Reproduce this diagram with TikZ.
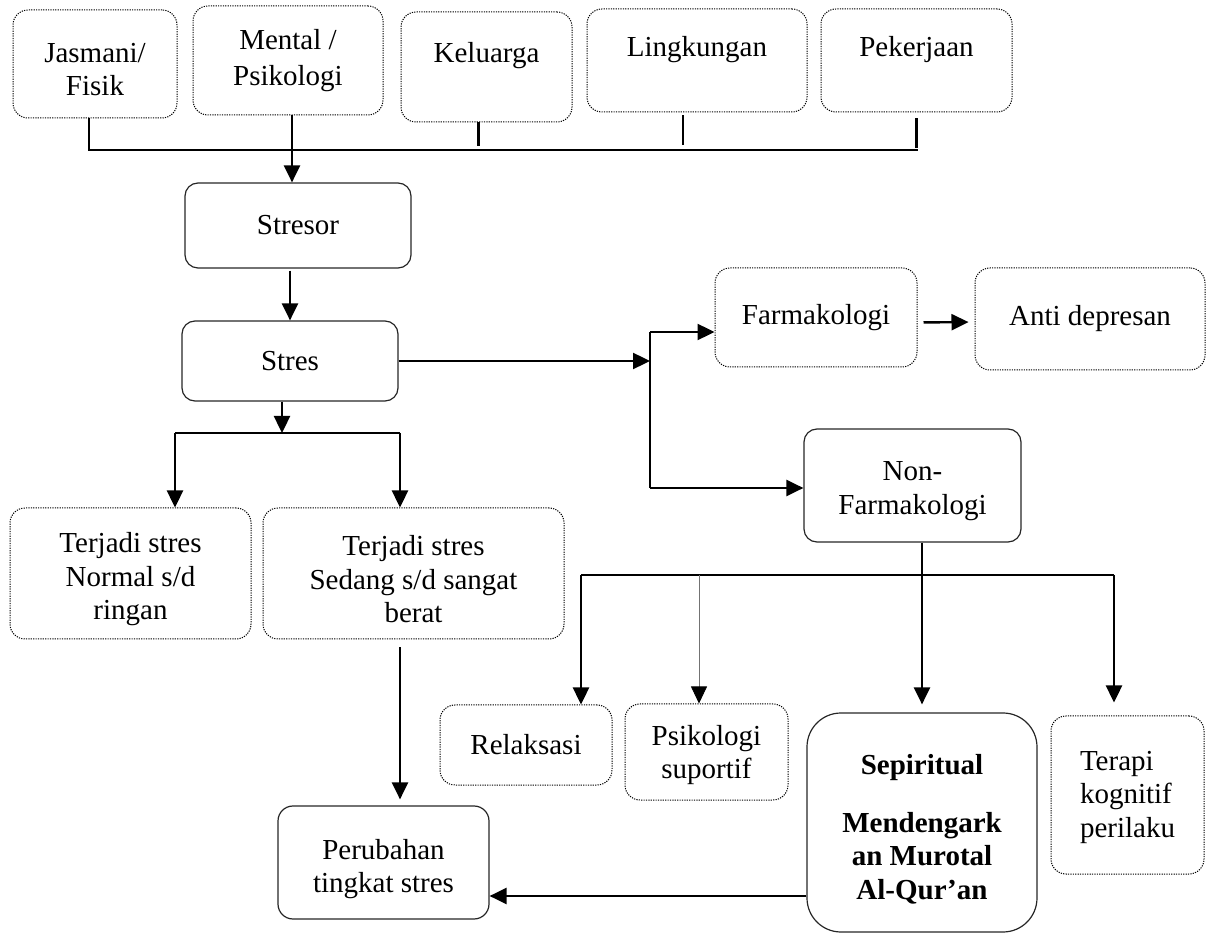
\documentclass[tikz,border=0pt]{standalone}
\usepackage{fontspec}
\setmainfont{Liberation Serif}
\usetikzlibrary{arrows.meta}

\begin{document}
\begin{tikzpicture}[x=0.5pt, y=-0.5pt, font=\fontsize{14.5}{16.75}\selectfont,
				>={Triangle[length=8.5pt,width=8pt]},
				dotbox/.style={rectangle, rounded corners=7.5pt, draw=black, dash pattern=on 0.6pt off 0.6pt, line width=0.5pt, align=center, inner sep=0pt},
				solidbox/.style={rectangle, rounded corners=6.5pt, draw=black!85, line width=0.6pt, align=center, inner sep=0pt},
				topline/.style={text height=10pt, text depth=14pt},
				conn/.style={line width=1.2pt},
				thinconn/.style={line width=0.4pt, draw=black!55, -{Triangle[length=8.5pt,width=8pt,color=black]}}]

				\useasboundingbox (0,0) rectangle (1206,935);

				% sumber stresor
				\node (jas) [dotbox, minimum width=82pt, minimum height=54pt] at (95,64) {\rule{0pt}{15pt}Jasmani/\\Fisik};
				\node (men) [dotbox, minimum width=95pt, minimum height=54.5pt] at (288,60.5) {Mental /\\[1.5pt]Psikologi};
				\node (kel) [dotbox, topline, minimum width=85.5pt, minimum height=55pt] at (486.5,67) {Keluarga};
				\node (lin) [dotbox, topline, minimum width=110pt, minimum height=51.5pt] at (697,60.5) {Lingkungan};
				\node (pek) [dotbox, topline, minimum width=95.5pt, minimum height=51.5pt] at (916.5,60.5) {Pekerjaan};

				\node (str) [solidbox, minimum width=113pt, minimum height=42.5pt] at (298,225.5) {Stresor};
				\node (stres) [solidbox, minimum width=108pt, minimum height=40pt] at (290,361) {Stres};

				% penanganan
				\node (farm) [dotbox, minimum width=101pt, minimum height=49.5pt] at (816,317.5) {Farmakologi};
				\node (anti) [dotbox, minimum width=115pt, minimum height=51pt] at (1090,319) {Anti depresan};
				\node (non) [solidbox, minimum width=108.5pt, minimum height=56.5pt] at (912.5,485.5) {\rule{0pt}{15pt}Non-\\Farmakologi};

				% tingkat stres
				\node (ring) [dotbox, minimum width=120.5pt, minimum height=65.5pt] at (130.5,573.5) {\rule{0pt}{16pt}Terjadi stres\\Normal s/d\\ringan};
				\node (berat) [dotbox, minimum width=150.5pt, minimum height=65.5pt] at (413.5,573.5) {\rule{0pt}{16pt}Terjadi stres\\Sedang s/d sangat\\berat};

				\node (rel) [dotbox, minimum width=86pt, minimum height=40pt] at (526,745) {Relaksasi};
				\node (psi) [dotbox, minimum width=81.5pt, minimum height=48pt] at (706.5,752) {\rule{0pt}{13pt}Psikologi\\suportif};
				\node (spi) [solidbox, rounded corners=17pt, font=\fontsize{14.5}{16.75}\selectfont\bfseries, minimum width=115pt, minimum height=109.5pt] at (922,822.5) {\rule{0pt}{17pt}Sepiritual\\[12pt]Mendengark\\an Murotal\\Al-Qur’an};
				\node (ter) [dotbox, align=left, minimum width=76.5pt, minimum height=79pt] at (1127.5,795) {\rule{0pt}{12pt}Terapi\\kognitif\\perilaku};
				\node (per) [solidbox, rounded corners=7.5pt, minimum width=105.5pt, minimum height=56.5pt] at (383.5,862.5) {\rule{0pt}{16.5pt}Perubahan\\tingkat stres};

				% titik cabang
				\coordinate (busL) at (89,150);
				\coordinate (busR) at (918,150);
				\coordinate (split) at (282,433);
				\coordinate (splitL) at (175,433);
				\coordinate (splitR) at (400,433);
				\coordinate (forkT) at (650,332);
				\coordinate (forkB) at (650,488);
				\coordinate (nbL) at (581,575);
				\coordinate (nbP) at (699,575);
				\coordinate (nbR) at (1114,575);
				\coordinate (bk) at (0,896);

				\draw [conn] (busL |- jas.south) -- (busL) -- (busR);
				\draw [conn] ([xshift=-4pt]kel.south) -- ++(0,24);
				\draw [conn] ([xshift=-7pt,yshift=-1.5pt]lin.south) -- ++(0,30);
				\draw [conn] ([yshift=-3pt]pek.south) -- ++(0,30);
				\draw [conn,->] ([xshift=2pt]men.south) -- ([xshift=2pt]men.south |- str.north);
				\draw [conn,->,shorten <=1pt] (stres.north |- str.south) -- (stres.north);

				\draw [conn,->] (stres.south -| split) -- (split);
				\draw [conn] (splitL) -- (splitR);
				\draw [conn,->] (splitL) -- (splitL |- ring.north);
				\draw [conn,->] (splitR) -- (splitR |- berat.north);
				\draw [conn,->,shorten <=4pt,shorten >=3pt] (splitR |- berat.south) -- (splitR |- per.north);

				\draw [conn,->] (stres.east) -- (stres.east -| forkT);
				\draw [conn] (forkT) -- (forkB);
				\draw [conn,->] (forkT) -- (forkT -| farm.west);
				\draw [conn,->] (forkB) -- (forkB -| non.west);
				\draw [conn,->,shorten <=3pt,shorten >=3pt] ([yshift=-2.5pt]farm.east) -- ([yshift=-1.5pt]anti.west);

				\draw [conn] (nbL) -- (nbR);
				\draw [conn,->] (nbL) -- (nbL |- rel.north);
				\draw [thinconn] (nbP) -- (nbP |- psi.north);
				\draw [conn,->,shorten >=4pt] (spi.north |- non.south) -- (spi.north);
				\draw [conn,->,shorten >=6.5pt] (nbR) -- (nbR |- ter.north);
				\draw [conn,->] (spi.west |- bk) -- (per.east |- bk);
			\end{tikzpicture}
\end{document}
